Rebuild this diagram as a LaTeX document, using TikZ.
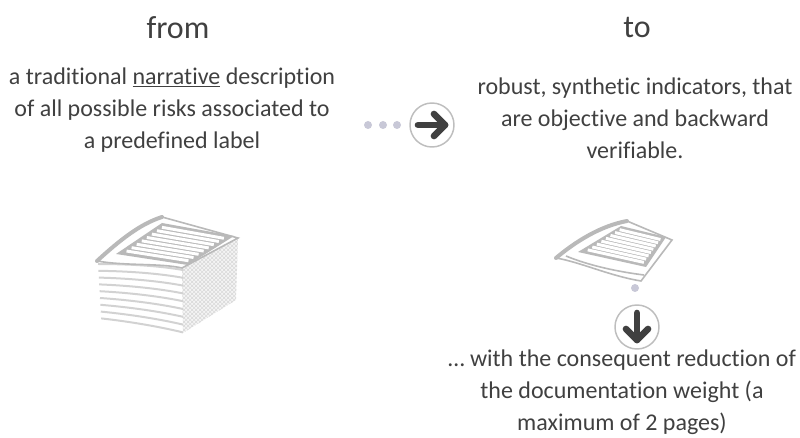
\documentclass[tikz,border=0pt]{standalone}
\usepackage{fontspec}
\setmainfont{Carlito}[Ligatures={NoCommon,NoRequired,NoContextual}]
\usepackage{tikz}
\usetikzlibrary{calc,patterns}

\definecolor{inkgray}{RGB}{64,64,64}
\definecolor{ringgray}{RGB}{190,190,190}
\definecolor{dotgray}{RGB}{200,200,215}
\definecolor{sheetgray}{RGB}{185,185,185}

\begin{document}
\begin{tikzpicture}[x=0.75pt,y=-0.75pt,
	head/.style={text=inkgray, font=\fontsize{24}{28}\selectfont},
	blurb/.style={text=inkgray, align=center, font=\fontsize{18}{24}\selectfont},
	ring/.style={circle, draw=ringgray, line width=1.1pt, fill=white, minimum size=33pt, inner sep=0pt},
	bead/.style={circle, fill=dotgray, minimum size=6pt, inner sep=0pt},
	chevron/.style={draw=inkgray, line width=5pt, line cap=round, line join=round},
	edge/.style={draw=sheetgray, line width=1.2pt},
	rim/.style={draw=sheetgray, line width=3pt, line cap=round},
	stripe/.style={draw=white, line width=2.2pt}]
	\useasboundingbox (0,0) rectangle (800,438);

	\node[head] (from) at (178,28) {from};
	\node[head] (to) at (637,28) {to};

	\node[blurb] (old) at (172,110) {a traditional \underline{narrative} description\\of all possible risks associated to\\a predefined label};
	\node[blurb] (new) at (635,118) {robust, synthetic indicators, that\\are objective and backward\\verifiable.};
	\node[blurb] (less) at (622,392) {… with the consequent reduction of\\the documentation weight (a\\maximum of 2 pages)};

	% dots and the arrow to the right
	\node[bead] (d1) at (368,125) {};
	\node[bead] (d2) at (383,125) {};
	\node[bead] (d3) at (397,125) {};
	\node[ring] (goR) at (432,125) {};
	\begin{scope}[shift={(goR)}]
		\draw[chevron] (-14,0) -- (13,0);
		\draw[chevron] (2,-11) -- (13,0) -- (2,11);
	\end{scope}

	% dot and the arrow down
	\node[bead] (d4) at (635,288) {};
	\node[ring] (goD) at (637,327) {};
	\begin{scope}[shift={(goD)}]
		\draw[chevron] (0,-14) -- (0,13);
		\draw[chevron] (-11,2) -- (0,13) -- (11,2);
	\end{scope}

	% pile of sheets: sides
	\fill[gray!8] (182,268) -- (238,238) -- (236,300) -- (183,333) -- cycle;
	\fill[pattern=crosshatch, pattern color=gray!30] (182,268) -- (238,238) -- (236,300) -- (183,333) -- cycle;
	\foreach \i in {0,...,8}
		\draw[edge, line width=1.5pt, draw=gray!35] (98+0.4*\i,264+6.8*\i) .. controls (130,264+7.2*\i) and (160,266+7.6*\i) .. (183,270+7.8*\i);

	% pile of sheets: top sheet
	\coordinate (pL) at (97,261);
	\coordinate (pT) at (162,217);
	\coordinate (pR) at (238,238);
	\coordinate (pF) at (182,268);
	\filldraw[fill=white, edge] (pL) .. controls (120,240) and (140,224) .. (pT) -- (pR) -- (pF) .. controls (160,263) and (125,266) .. (pL) -- cycle;
	\draw[rim] (pL) .. controls (120,240) and (140,224) .. (pT);
	\coordinate (pA) at (116,254);
	\coordinate (pB) at (162,223);
	\coordinate (pC) at (234,236);
	\coordinate (pD) at (188,265);
	\fill[sheetgray] (pA) -- (pB) -- (pC) -- (pD) -- cycle;
	\foreach \t in {0.12,0.23,...,0.9}
		\draw[stripe] ($($(pA)!\t!(pB)$)!0.07!($(pD)!\t!(pC)$)$) -- ($($(pA)!\t!(pB)$)!0.93!($(pD)!\t!(pC)$)$);

	% single sheet
	\coordinate (qL) at (556,258);
	\coordinate (qT) at (627,221);
	\coordinate (qR) at (672,240);
	\coordinate (qF) at (641,281);
	\filldraw[fill=white, edge] (qL) .. controls (575,242) and (600,226) .. (qT) -- (qR) -- (qF) .. controls (610,276) and (580,262) .. (qL) -- cycle;
	\draw[rim] (qL) .. controls (575,242) and (600,226) .. (qT);
	\draw[edge] (566,256) .. controls (590,266) and (620,272) .. (644,275);
	\coordinate (qA) at (578,252);
	\coordinate (qB) at (621,226);
	\coordinate (qC) at (666,237);
	\coordinate (qD) at (646,267);
	\fill[sheetgray] (qA) -- (qB) -- (qC) -- (qD) -- cycle;
	\foreach \t in {0.12,0.23,...,0.9}
		\draw[stripe] ($($(qA)!\t!(qB)$)!0.07!($(qD)!\t!(qC)$)$) -- ($($(qA)!\t!(qB)$)!0.93!($(qD)!\t!(qC)$)$);
\end{tikzpicture}
\end{document}
